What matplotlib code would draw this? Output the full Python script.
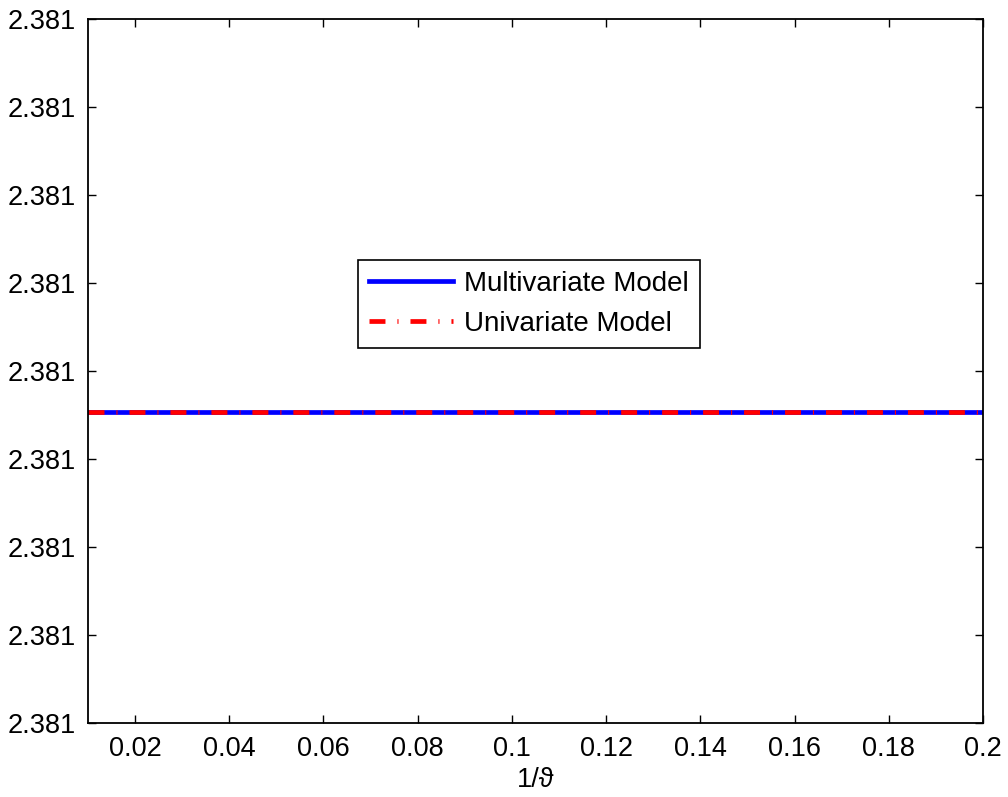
import matplotlib
matplotlib.use('Agg')
import matplotlib.pyplot as plt
from matplotlib.ticker import FormatStrFormatter

plt.rcParams['font.family'] = ['Liberation Sans', 'DejaVu Sans']
plt.rcParams['lines.scale_dashes'] = False

# data: the two models give the same (constant) value over 1/theta
inv_theta = [0.01, 0.02, 0.04, 0.06, 0.08, 0.10, 0.12, 0.14, 0.16, 0.18, 0.20]
multivariate = [2.38105353] * len(inv_theta)
univariate = [2.38105353] * len(inv_theta)

x_ticks = [0.02, 0.04, 0.06, 0.08, 0.1, 0.12, 0.14, 0.16, 0.18, 0.2]
y_low, y_step = 2.381053177, 1e-7
y_ticks = [y_low + k * y_step for k in range(9)]

fig = plt.figure(figsize=(10.08, 7.97), dpi=100)
ax = fig.add_axes([0.0873, 0.0928, 0.8878, 0.8833])

ax.plot(inv_theta, multivariate, color='#0000ff', linewidth=3.4, label='Multivariate Model')
ax.plot(inv_theta, univariate, color='#ff0000', linewidth=3.4,
        linestyle=(0, (11.5, 8.6, 0.8, 8.6)), label='Univariate Model')

ax.set_xlim(0.01, 0.2)
ax.set_ylim(y_ticks[0], y_ticks[-1])
ax.set_xticks(x_ticks)
ax.set_xticklabels(['0.02', '0.04', '0.06', '0.08', '0.1', '0.12', '0.14', '0.16', '0.18', '0.2'])
ax.set_yticks(y_ticks)
ax.yaxis.set_major_formatter(FormatStrFormatter('%.3f'))
ax.tick_params(direction='in', length=6, width=1, top=True, right=True,
               labelsize=19.5, pad=9)
for s in ax.spines.values():
    s.set_linewidth(1.3)

ax.set_xlabel('1/ϑ', fontsize=19.5, labelpad=4)

leg = ax.legend(loc='upper left', bbox_to_anchor=(0.302, 0.658), fontsize=20,
                handlelength=3.0, handletextpad=0.4, labelspacing=0.5,
                borderpad=0.4, borderaxespad=0, fancybox=False, framealpha=1)
leg.get_frame().set_edgecolor('black')
leg.get_frame().set_linewidth(1.2)

fig.savefig('out.png', dpi=100)
